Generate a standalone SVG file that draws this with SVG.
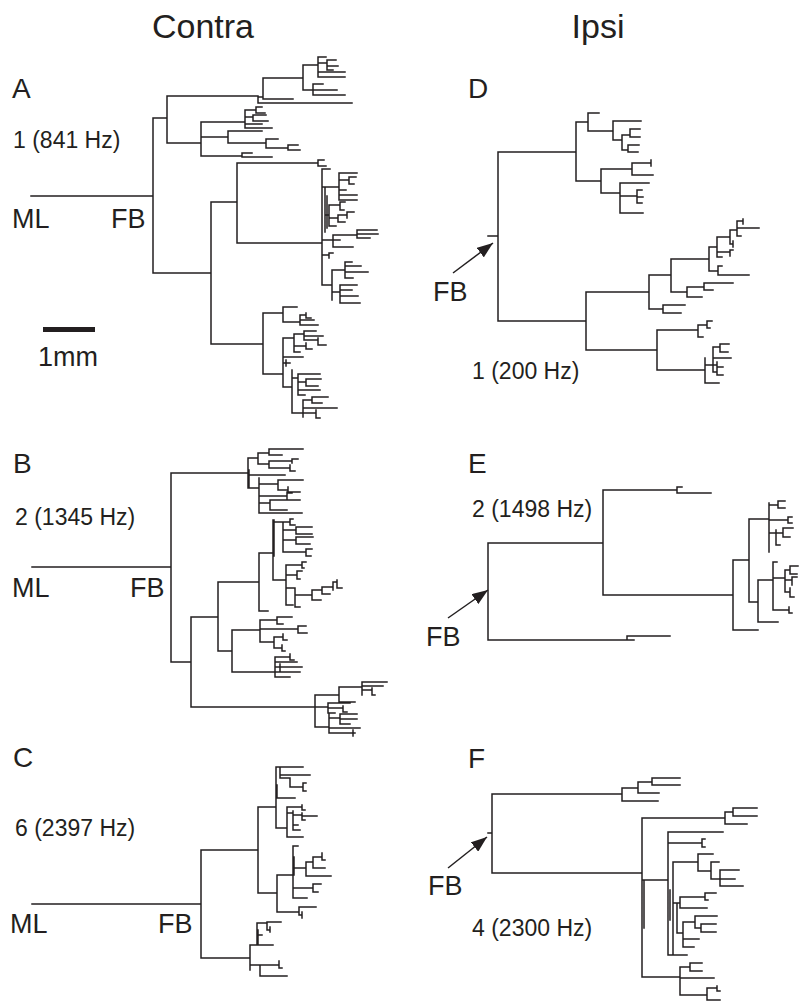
<svg xmlns="http://www.w3.org/2000/svg" width="802" height="1001" viewBox="0 0 802 1001">
<style>
.t{fill:none;stroke:#231f20;stroke-width:1.5;stroke-linecap:square}
.lbl{font-family:"Liberation Sans",Arial,sans-serif;fill:#231f20}
.title{font-size:34px}
.pl{font-size:28px}
.big{font-size:27px}
.fq{font-size:23px}
.arr{stroke:#231f20;stroke-width:1.5;fill:none}
</style>
<defs>
<marker id="ah" viewBox="0 0 16 12" refX="16" refY="6" markerWidth="16" markerHeight="12" markerUnits="userSpaceOnUse" orient="auto"><path d="M0 0 L16 6 L0 12 z" fill="#231f20"/></marker>
</defs>
<rect width="802" height="1001" fill="#fff"/>
<text class="lbl title" x="203" y="38" text-anchor="middle">Contra</text>
<text class="lbl title" x="598" y="38" text-anchor="middle">Ipsi</text>

<g id="panel-A">
<text class="lbl pl" x="12" y="98">A</text>
<text class="lbl fq" x="13" y="148">1 (841 Hz)</text>
<text class="lbl big" x="12" y="228">ML</text>
<text class="lbl big" x="111" y="228">FB</text>
<rect x="43" y="327" width="52" height="5" fill="#231f20"/>
<text class="lbl big" x="38" y="366">1mm</text>
<path class="t" d="M31 196H153M153 118V273M153 118H167M167 96V143M167 96H258M258 96V103H352M258 97H263M263 78V99M263 99H293M263 78H303M303 65V90M303 65H318M318 57V77M318 57H326M318 63H327M327 60V70M327 60H336M327 66H338M327 70H333M318 72H345M318 77H345M303 90H313M313 84V95M313 84H323M313 90H337M313 95H345
M167 143H201M201 122V156M201 122H245M245 110V128M245 110H256M256 107V113M256 107H262M256 113H265M245 117H253M253 115V121M253 115H266M253 121H268M245 124H262M245 128H272M201 137H228M228 131V143M228 131H262M228 143H266M266 139V148M266 139H278M266 148H288M288 145V150M288 145H298M288 150H300M201 156H242M242 153V157M242 153H252M242 157H272
M153 273H211M211 202V344M211 202H237M237 163V243M237 163H318M318 160V166M318 160H324M318 166H326M237 243H322M322 169V285M322 169H330M325 187V232M327 196V228
M322 187H339M339 173V200M339 173H357M339 180H349M349 177V184M349 177H356M349 184H354M339 190H346M339 195H357M339 200H357
M325 215H329M329 205V226M329 205H340M340 202V210M340 202H345M340 210H344M329 218H338M338 215V222M338 215H347M347 212V218M347 212H354M338 222H345M329 226H336
M322 240H333M333 235V247M333 235H357M357 230V238M357 230H377M357 234H378M357 238H370M333 240H340M333 247H353M322 255H329M329 253V258M329 253H333
M322 285H332M332 270V300M332 270H345M345 262V278M345 262H352M345 266H361M345 272H368M345 278H353M332 292H340M340 285V303M340 285H357M340 290H352M340 296H358M340 303H360
M211 344H263M263 313V374M263 313H283M283 307V322M283 307H297M283 322H300M300 315V325M300 315H306M306 313V318H311M300 320H314M300 325H318
M263 374H283M283 338V387M283 338H294M294 334V352M294 334H304M304 331V340M304 331H316M304 336H323M304 340H318M318 338V345M318 345H326M294 346H306M306 343V349M306 349H312M294 352H300M283 357H303M283 363H290M286 360V366M283 387H292M292 370V413M292 378H298M298 374V395M298 374H320M298 382H306M306 379V386M306 379H321M306 386H318M298 390H320M298 395H305M292 413H303M303 400V417M303 400H312M312 397V403M312 397H328M312 403H322M303 408H337M303 413H316M316 410V418H320"/>
</g>

<g id="panel-B">
<text class="lbl pl" x="13" y="473">B</text>
<text class="lbl fq" x="15" y="525">2 (1345 Hz)</text>
<text class="lbl big" x="12" y="597">ML</text>
<text class="lbl big" x="130" y="597">FB</text>
<path class="t" d="M32 567H171M171 473V662M171 473H248M248 458V488M249 470V488M248 458H258M258 453V464M258 453H269M269 449V455M269 449H303M269 455H282M258 464H269M269 461V468M269 461H292M292 459V463M292 459H298M269 468H290M290 465V471H295M248 475H285M248 488H259M259 478V513M259 484H278M278 480V490M278 480H303M278 490H288M288 487V493H292M259 496H287M287 492V500M287 492H300M287 500H296M259 503H270M270 500V510M270 500H300M270 510H287M259 513H302
M171 662H191M191 617V707M191 617H218M218 582V651M218 582H259M259 553V611M259 611H268M259 553H273M273 520V580M274 520V556
M273 522H283M283 522V552M283 522H290M290 519V525H295M290 519H293M283 530H296M296 527V534M296 527H312M296 534H312M283 540H296M296 537V544M296 537H313M296 544H310M283 552H306M306 549V556H311M306 549H312
M273 580H286M286 565V605M286 565H302M302 562V568M302 562H306M302 568H304M286 575H297M297 571V579M297 571H302M297 579H300M286 588H295M295 588V607M295 595H312M312 590V600M312 590H322M322 587V594M322 587H333M333 582V590M333 582H337M337 580V588H342M322 594H330M312 600H321M295 607H300M286 605H293
M218 651H232M232 630V672M232 630H260M260 620V642M260 620H277M277 617V624M277 617H292M277 624H283M260 629H298M298 626V633H307M298 626H306M260 642H274M274 637V648M274 637H283M283 634V640H287M274 648H282M282 645V651H285
M232 672H275M275 657V677M275 657H290M290 654V660H294M275 662H297M275 667H302M280 664V672M275 672H300M275 677H290
M191 707H315M315 695V727M315 695H339M339 687V702M339 687H362M362 682V695M362 682H387M362 686H383M362 690H372M372 688V695H375M339 702H355M315 707H328M328 703V713M328 703H350M328 708H343M343 706V712H347M328 713H335M315 727H329M329 713V733M329 718H340M340 714V724M340 714H357M340 719H357M340 724H350M329 728H360M329 733H355M353 730V736"/>
</g>

<g id="panel-C">
<text class="lbl pl" x="13" y="767">C</text>
<text class="lbl fq" x="15" y="836">6 (2397 Hz)</text>
<text class="lbl big" x="10" y="933">ML</text>
<text class="lbl big" x="158" y="933">FB</text>
<path class="t" d="M32 904H201M201 850V958M201 850H258M258 807V893M258 807H276M276 767V828M277 785V797M276 767H280M280 767V778M280 767H303M280 775H310M280 778H290M290 778V787M290 787H303M303 783V791M303 783H306M303 791H306M276 798H295M276 828H287M287 807V837M287 807H302M302 805V810H305M287 813H293M293 811V830M293 815H302M302 813V820M302 816H317M302 820H305M293 825H298M293 830H300M287 837H303
M258 893H277M277 875V912M277 875H293M293 846V898M294 857V875M293 846H298M293 868H306M306 862V876M306 862H313M313 857V868M313 857H322M322 853V860H325M313 868H325M306 876H331M293 888H313M313 884V892M313 884H321M313 892H318M293 898H307M277 912H299M299 907V915M299 907H316M299 915H302M302 912V918
M201 958H250M250 945V970M250 945H273M257 923V945M258 930V945M257 923H267M267 922V930M267 922H281M267 930H270M270 927V932M257 935H262M250 965H260M260 965V976M260 965H279M279 961V968H282M260 976H287"/>
</g>

<g id="panel-D">
<text class="lbl pl" x="468" y="98">D</text>
<text class="lbl fq" x="472" y="379">1 (200 Hz)</text>
<text class="lbl big" x="433" y="301">FB</text>
<path class="t" d="M488 236H498M498 152V321M498 152H576M576 122V181M576 122H588M588 113V131M588 113H599M588 131H613M613 121V140M613 121H641M613 140H622M622 135V150M622 135H630M630 129V137M630 129H640M630 137H640M622 150H628M628 145V152M628 145H639M628 152H638
M576 181H601M601 169V193M601 169H632M632 163V175M632 163H651M651 160V166M632 175H653M601 193H620M620 183V213M620 183H649M620 196H637M637 190V203M637 190H642M637 197H643M637 203H642M620 213H643
M498 321H586M586 292V350M586 292H649M649 275V309M649 275H671M671 259V292M671 259H709M709 247V271M709 247H717M717 237V257M717 237H730M730 230V244M730 230H737M737 221V236M737 221H743M743 219V224M737 228H759M737 236H741M730 244H733M733 241V247M717 252H730M730 250V256M730 250H733M717 257H722M709 271H718M718 266V275M718 275H749M718 266H722
M671 292H687M687 287V297M687 287H704M704 283V290M704 283H733M704 290H713M687 297H702M649 309H663M663 305V313M663 305H685M663 313H681
M586 350H657M657 330V370M657 330H698M698 325V337M698 325H707M707 321V328M707 321H712M707 328H710M698 337H703M657 370H705M705 358V383M705 383H719M705 365H713M713 347V372M713 347H720M720 344V352M720 344H729M720 352H728M713 358H731M713 365H717M717 362V375M717 367H723M717 375H723M713 372H716"/>
</g>

<g id="panel-E">
<text class="lbl pl" x="468" y="473">E</text>
<text class="lbl fq" x="472" y="517">2 (1498 Hz)</text>
<text class="lbl big" x="426" y="646">FB</text>
<path class="t" d="M488 543V640M488 640H627M627 636V640M627 636H670M627 640H634M488 543H603M603 490V595M603 490H677M677 487V493M677 487H682M677 493H711M603 595H733M733 560V630M733 630H758M733 560H749M749 519V602M749 519H769M769 503V552M769 505H778M778 501V508M778 501H785M778 508H785M769 520H788M788 517V523H792M788 517H792M769 533H776M776 530V545M776 533H783M783 528V537M783 528H793M783 537H790M776 545H780
M749 602H758M758 580V622M758 622H778M758 580H773M773 562V610M773 562H777M773 578H785M785 570V592M785 570H790M790 566V574H797M790 566H798M785 580H792M792 577V585M792 577H797M785 592H790M790 588V597H794M773 610H789M789 607V613H792"/>
</g>

<g id="panel-F">
<text class="lbl pl" x="468" y="768">F</text>
<text class="lbl fq" x="472" y="936">4 (2300 Hz)</text>
<text class="lbl big" x="428" y="895">FB</text>
<path class="t" d="M488 833H492M492 794V873M492 794H622M622 788V801M622 788H638M638 782V793M638 782H652M652 778V785M652 778H680M652 785H680M638 793H659M622 801H658
M492 873H642M642 818V977M644 880V928M642 818H725M725 812V824M725 812H733M733 808V816M733 808H757M733 816H757M725 824H747M642 880H668M668 832V955M668 832H723M668 843H702M702 839V847M702 839H705M702 847H705M670 890V920
M673 862V955M673 862H698M698 854V871M698 854H713M698 871H711M711 862V879M711 862H719M711 879H720M720 870V886M720 870H739M720 879H735M720 886H743
M673 903H677M677 903V933M677 903H680M680 897V908M680 897H705M705 893V900M705 893H716M705 900H708M680 908H707M677 933H683M683 922V947M683 922H695M695 916V928M695 916H717M695 928H701M701 924V932M701 924H716M701 932H716M683 939H699M683 947H694M668 955H687
M642 977H680M680 967V995M680 967H690M690 963V971M690 963H702M690 971H702M680 978H714M680 995H707M707 988V1000M707 988H717M717 986V991H720M707 1000H720"/>
</g>

<g id="connectors">
<line class="arr" x1="453" y1="273" x2="493" y2="243" marker-end="url(#ah)"/>
<line class="arr" x1="448" y1="618" x2="488" y2="590" marker-end="url(#ah)"/>
<line class="arr" x1="448" y1="868" x2="487" y2="837" marker-end="url(#ah)"/>
</g>
</svg>
